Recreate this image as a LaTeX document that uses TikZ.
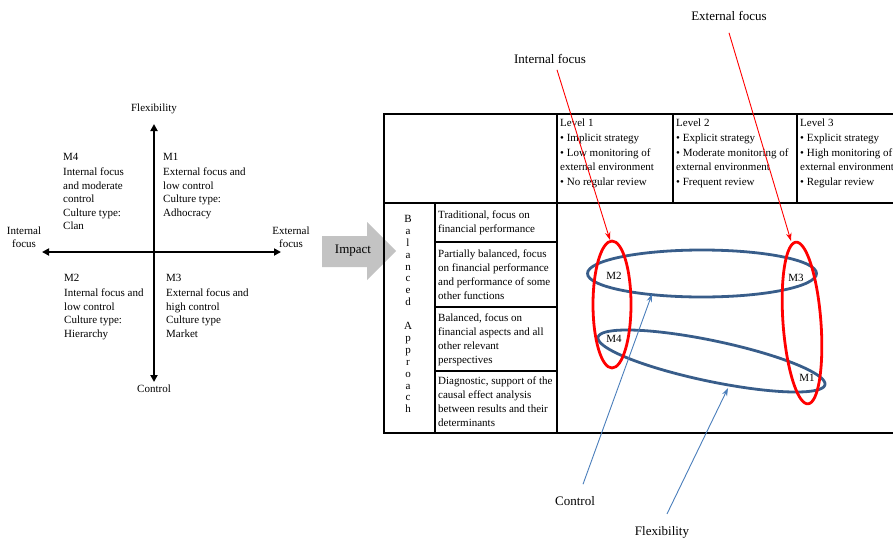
\documentclass[tikz,border=0pt]{standalone}
\usepackage{fontspec}
\setmainfont{Liberation Serif}
\usetikzlibrary{arrows.meta,calc}
\definecolor{ellblue}{HTML}{385D8A}
\definecolor{arrblue}{HTML}{4A7EBB}
\definecolor{impgray}{HTML}{C3C3C3}
\begin{document}
\begin{tikzpicture}[x=1pt,y=-1pt,
  qtxt/.style={font=\fontsize{11pt}{13.5pt}\selectfont, inner sep=0pt, align=left, anchor=north west},
  lvl/.style={font=\fontsize{11pt}{14.7pt}\selectfont, inner sep=0pt, align=left, anchor=north west},
  cell/.style={font=\fontsize{11pt}{13.8pt}\selectfont, inner sep=0pt, align=left, anchor=north west},
  axlbl/.style={font=\fontsize{11pt}{12.6pt}\selectfont, inner sep=0pt, align=center},
  callout/.style={font=\fontsize{13pt}{15pt}\selectfont, inner sep=0pt},
  mlbl/.style={font=\fontsize{11pt}{13pt}\selectfont, inner sep=0pt},
  axis/.style={line width=1.8pt, {Triangle[length=7pt,width=7pt]}-{Triangle[length=7pt,width=7pt]}},
  tbl/.style={line width=1.3pt, black},
  blueell/.style={line width=2.8pt, ellblue},
  redell/.style={line width=2.8pt, red},
  redarr/.style={line width=0.9pt, red, -{Stealth[length=8pt,width=5.5pt]}},
  bluearr/.style={line width=0.9pt, arrblue, -{Stealth[length=8pt,width=5.5pt]}}
]
\useasboundingbox (0,0) rectangle (893,538);
\clip (0,0) rectangle (893,538);

% ---------- left quadrant ----------
\coordinate (axT) at (154,124);
\coordinate (axB) at (154,382);
\coordinate (axL) at (42,252);
\coordinate (axR) at (281,252);
\draw[axis] (axB) -- (axT);
\draw[axis] (axL) -- (axR);

\node[axlbl] (flexq) at (154,109) {Flexibility};
\node[axlbl] (ctrlq) at (154,388.5) {Control};
\node[axlbl] (intq) at (24,237) {Internal\\focus};
\node[axlbl] (extq) at (291,237) {External\\focus};

\node[qtxt] (m4q) at (63,153) {M4\\[2pt]Internal focus\\and moderate\\control\\Culture type:\\Clan};
\node[qtxt] (m1q) at (163,153) {M1\\[2pt]External focus and\\low control\\Culture type:\\Adhocracy};
\node[qtxt] (m2q) at (64,274) {M2\\[2pt]Internal focus and\\low control\\Culture type:\\Hierarchy};
\node[qtxt] (m3q) at (166,274) {M3\\[2pt]External focus and\\high control\\Culture type\\Market};

% ---------- impact arrow ----------
\fill[impgray] (322,236) -- (367,236) -- (367,222) -- (396,251) -- (367,280) -- (367,267) -- (322,267) -- cycle;
\node[callout] (impact) at (353,251) {Impact};

% ---------- table ----------
\draw[tbl] (384,114) rectangle (900,433);
\draw[tbl] (384,203) -- (900,203);
\draw[tbl] (557,114) -- (557,433);
\draw[tbl] (673,114) -- (673,203);
\draw[tbl] (797,114) -- (797,203);
\draw[tbl] (435,203) -- (435,433);
\draw[tbl] (435,242) -- (557,242);
\draw[tbl] (435,307) -- (557,307);
\draw[tbl] (435,371) -- (557,371);

\node[lvl] (lv1) at (560,119) {Level 1\\• Implicit strategy\\• Low monitoring of\\external environment\\• No regular review};
\node[lvl] (lv2) at (676,119) {Level 2\\• Explicit strategy\\• Moderate monitoring of\\external environment\\• Frequent review};
\node[lvl] (lv3) at (800,119) {Level 3\\• Explicit strategy\\• High monitoring of\\external environment\\• Regular review};

\node[font=\fontsize{11pt}{11.9pt}\selectfont, inner sep=0pt, align=center, anchor=north] (bal) at (408,215)
  {B\\a\\l\\a\\n\\c\\e\\d\\[11.9pt]A\\p\\p\\r\\o\\a\\c\\h};

\node[cell] (r1) at (438,211) {Traditional, focus on\\financial performance};
\node[cell] (r2) at (438,250) {Partially balanced, focus\\on financial performance\\and performance of some\\other functions};
\node[cell] (r3) at (438,314) {Balanced, focus on\\financial aspects and all\\other relevant\\perspectives};
\node[cell] (r4) at (438,377) {Diagnostic, support of the\\causal effect analysis\\between results and their\\determinants};

% ---------- ellipses ----------
\draw[blueell] (702,273.5) ellipse [x radius=114.5pt, y radius=23.5pt];
\draw[blueell] plot[domain=0:357, samples=120, smooth cycle, variable=\t]
  ({711.5+113.5*cos(\t)}, {361+23*cos(\t)+20.8*sin(\t)});
\draw[redell] (612,304.5) ellipse [x radius=19pt, y radius=63.5pt];
\draw[redell] plot[domain=0:357, samples=120, smooth cycle, variable=\t]
  ({802+18.9*cos(\t)+6*sin(\t)}, {323-1.4*cos(\t)+80.8*sin(\t)});

\node[mlbl] (m2) at (614,276) {M2};
\node[mlbl] (m3) at (796,278) {M3};
\node[mlbl] (m4) at (614,339) {M4};
\node[mlbl] (m1) at (807,378) {M1};

% ---------- callouts ----------
\node[callout] (intf) at (550,59) {Internal focus};
\node[callout] (extf) at (729,16) {External focus};
\node[callout] (ctrl) at (575,501) {Control};
\node[callout] (flex) at (662,532) {Flexibility};

\coordinate (tipIn) at (610,240);
\coordinate (tipEx) at (791,241);
\coordinate (tipCo) at (652,294);
\coordinate (tipFl) at (728,388);

\draw[redarr] ($(intf.south)+(7,6)$) -- (tipIn);
\draw[redarr] ($(extf.south)+(0,12)$) -- (tipEx);
\draw[bluearr] ($(ctrl.north)+(8,-12)$) -- (tipCo);
\draw[bluearr] ($(flex.north)+(5,-12)$) -- (tipFl);
\end{tikzpicture}
\end{document}
